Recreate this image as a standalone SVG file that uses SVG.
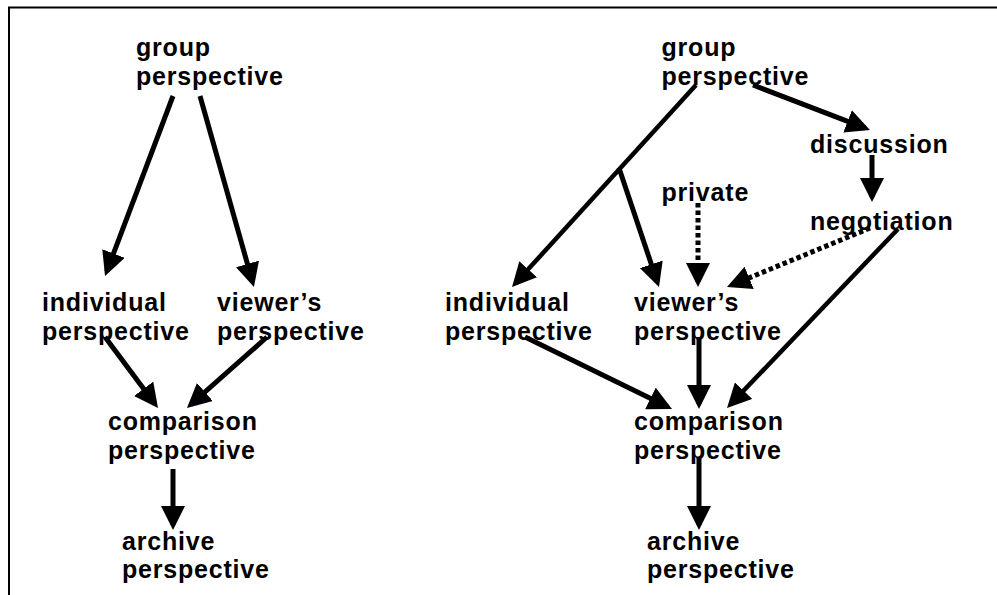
<svg xmlns="http://www.w3.org/2000/svg" width="997" height="595" viewBox="0 0 997 595">
<style>
text{font-family:"Liberation Sans",Arial,sans-serif;font-weight:bold;font-size:25px;letter-spacing:0.8px;fill:#000}
.c{stroke:#000;stroke-width:5;fill:none;marker-end:url(#ah)}
.t{stroke-width:4.5}
.d{stroke-dasharray:4.5 3}
</style>
<defs>
<marker id="ah" markerUnits="userSpaceOnUse" markerWidth="24" markerHeight="24" viewBox="0 0 24 24" refX="19" refY="12" orient="auto">
<path d="M0,0 L24,12 L0,24 z" fill="#000"/>
</marker>
</defs>
<rect width="997" height="595" fill="#fff"/>
<path d="M9,595 V7.5 H997" stroke="#000" stroke-width="2" fill="none"/>
<g id="connectors">
<line class="c" x1="173" y1="96" x2="106.8" y2="271.3"/>
<line class="c" x1="200" y1="96" x2="252.6" y2="282.2"/>
<line class="c" x1="105" y1="337" x2="155" y2="404"/>
<line class="c" x1="267" y1="337" x2="190.7" y2="404.7"/>
<line class="c" x1="173" y1="469" x2="173" y2="525"/>
<line class="c t" x1="696" y1="85" x2="515.4" y2="283.3"/>
<line class="c" x1="619" y1="168" x2="657.4" y2="282.3"/>
<line class="c" x1="753" y1="85" x2="865.3" y2="128.2"/>
<line class="c" x1="872" y1="155" x2="872" y2="197"/>
<line class="c d" x1="698" y1="203" x2="698" y2="282"/>
<line class="c d" x1="870" y1="228" x2="731.6" y2="285.1"/>
<line class="c t" x1="898" y1="229" x2="730.5" y2="404.4"/>
<line class="c" x1="525" y1="337" x2="667.5" y2="406.8"/>
<line class="c" x1="699" y1="337" x2="699" y2="404"/>
<line class="c" x1="699" y1="458" x2="699" y2="525"/>
</g>
<g id="l-group"><text x="136" y="56">group</text><text x="136" y="85">perspective</text></g>
<g id="l-individual"><text x="42" y="311">individual</text><text x="42" y="340">perspective</text></g>
<g id="l-viewers"><text x="217" y="311">viewer’s</text><text x="217" y="340">perspective</text></g>
<g id="l-comparison"><text x="108" y="430">comparison</text><text x="108" y="459">perspective</text></g>
<g id="l-archive"><text x="122" y="550">archive</text><text x="122" y="578">perspective</text></g>
<g id="r-group"><text x="661.5" y="56">group</text><text x="661.5" y="85">perspective</text></g>
<g id="r-discussion"><text x="810" y="153">discussion</text></g>
<g id="r-private"><text x="661.5" y="201">private</text></g>
<g id="r-negotiation"><text x="810" y="230">negotiation</text></g>
<g id="r-individual"><text x="445" y="311">individual</text><text x="445" y="340">perspective</text></g>
<g id="r-viewers"><text x="634" y="311">viewer’s</text><text x="634" y="340">perspective</text></g>
<g id="r-comparison"><text x="634" y="430">comparison</text><text x="634" y="459">perspective</text></g>
<g id="r-archive"><text x="647" y="550">archive</text><text x="647" y="578">perspective</text></g>
</svg>
